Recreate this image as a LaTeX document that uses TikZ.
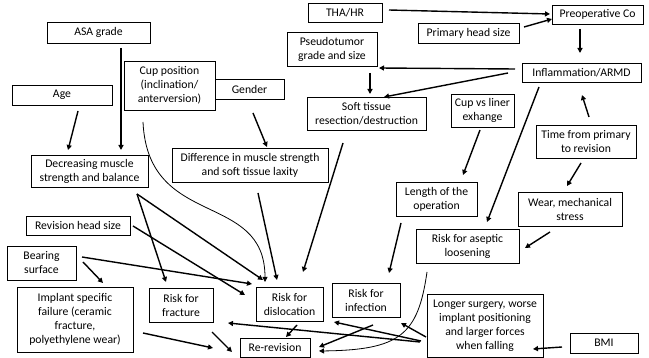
\documentclass[tikz,border=0pt]{standalone}
\usepackage{fontspec}
\setmainfont{Carlito}
\usetikzlibrary{arrows.meta,calc}
\begin{document}
\begin{tikzpicture}[x=1pt,y=-1pt,
 box/.style={draw=black,line width=0.9pt,align=center,inner sep=0pt,font=\fontsize{11.7}{14}\selectfont},
 arr/.style={line width=1.4pt,-{Triangle[length=5pt,width=5pt]}},
 carr/.style={line width=0.8pt,-{Triangle[length=5pt,width=5pt]}}]
\useasboundingbox (0,0) rectangle (649,358);
% nodes
\node[box,minimum width=103pt,minimum height=21pt] (asa) at (98.5,32.5) {ASA grade};
\node[box,minimum width=100pt,minimum height=20pt] (age) at (62,95) {Age};
\node[box,minimum width=91pt,minimum height=49pt] (cup) at (169.5,85.5) {Cup position\\(inclination/\\anterversion)};
\node[box,minimum width=69pt,minimum height=20pt] (gender) at (249.5,89) {Gender};
\node[box,minimum width=117pt,minimum height=32pt] (dec) at (89.5,171) {Decreasing muscle\\strength and balance};
\node[box,minimum width=156pt,minimum height=34pt] (diff) at (250,165) {Difference in muscle strength\\and soft tissue laxity};
\node[box,minimum width=74pt,minimum height=19pt] (tha) at (345,12.5) {THA/HR};
\node[box,minimum width=91pt,minimum height=19pt] (preop) at (597.5,14.5) {Preoperative Co};
\node[box,minimum width=101pt,minimum height=20pt] (phs) at (468.5,33) {Primary head size};
\node[box,minimum width=90pt,minimum height=34pt] (pseudo) at (332,49) {Pseudotumor\\grade and size};
\node[box,minimum width=119pt,minimum height=19pt] (infl) at (581.5,72.5) {Inflammation/ARMD};
\node[box,minimum width=119pt,minimum height=33pt] (soft) at (366.5,113.5) {Soft tissue\\resection/destruction};
\node[box,minimum width=63pt,minimum height=33pt] (cvl) at (482.5,110.5) {Cup vs liner\\exhange};
\node[box,minimum width=100pt,minimum height=33pt] (time) at (586,141.5) {Time from primary\\to revision};
\node[box,minimum width=81pt,minimum height=34pt] (len) at (436.5,199) {Length of the\\operation};
\node[box,minimum width=104pt,minimum height=34pt] (wear) at (570,209) {Wear, mechanical\\stress};
\node[box,minimum width=103pt,minimum height=34pt] (asep) at (467.5,246) {Risk for aseptic\\loosening};
\node[box,minimum width=68pt,minimum height=34pt] (inf) at (366,300) {Risk for\\infection};
\node[box,minimum width=116pt,minimum height=63pt] (longer) at (485,325.5) {Longer surgery, worse\\implant positioning\\and larger forces\\when falling};
\node[box,minimum width=68pt,minimum height=20pt] (bmi) at (604,343) {BMI};
\node[box,minimum width=104pt,minimum height=19pt] (rhs) at (78,225.5) {Revision head size};
\node[box,minimum width=69pt,minimum height=34pt] (bear) at (41.5,263) {Bearing\\surface};
\node[box,minimum width=116pt,minimum height=65pt] (impl) at (75,319.5) {Implant specific\\failure (ceramic\\fracture,\\polyethylene wear)};
\node[box,minimum width=64pt,minimum height=34pt] (frac) at (181,305) {Risk for\\fracture};
\node[box,minimum width=67pt,minimum height=34pt] (disl) at (289.5,304) {Risk for\\dislocation};
\node[box,minimum width=70pt,minimum height=19pt] (rerev) at (275,347.5) {Re-revision};
% connectors
\draw[arr] ($(tha)+(44,-2.5)$) -- ($(preop)+(-47.5,-0.5)$);
\draw[arr] ($(phs)+(55.5,-6)$) -- ($(preop)+(-45.5,4.5)$);
\draw[arr] ($(preop)+(-17.5,14.5)$) -- ($(infl)+(-1.5,-19.5)$);
\draw[arr] ($(infl)+(-66.5,-3.5)$) -- ($(pseudo)+(47,19)$);
\draw[arr] ($(infl)+(-73.5,0.5)$) -- ($(soft)+(17.5,-16.5)$);
\draw[arr] ($(pseudo)+(38,24)$) -- ($(soft)+(3.5,-19.5)$);
\draw[arr] ($(time)+(3,-24.5)$) -- ($(infl)+(0.5,22.5)$);
\draw[arr] ($(time)+(-5,21.5)$) -- ($(wear)+(-3,-23)$);
\draw[arr] ($(cvl)+(-2.5,19.5)$) -- ($(len)+(26.5,-24)$);
\draw[arr] ($(infl)+(-42.5,14.5)$) -- ($(asep)+(19.5,-24)$);
\draw[arr] ($(wear)+(-20,23)$) -- ($(asep)+(57.5,2)$);
\draw[arr] ($(len)+(-35.5,24)$) -- ($(inf)+(23,-27)$);
\draw[arr] ($(bmi)+(-42,4)$) -- ($(longer)+(48,23.5)$);
\draw[carr] ($(asep)+(-40.5,26)$) .. controls ($(asep)+(-49.5,89)$) and ($(rerev)+(125,2.5)$) .. ($(rerev)+(44,3.5)$);
\draw[arr] ($(longer)+(-59,11.5)$) -- ($(inf)+(35,23)$);
\draw[arr] ($(longer)+(-65,16.5)$) -- ($(frac)+(47,18)$);
\draw[arr] ($(longer)+(-64,15.5)$) -- ($(disl)+(44.5,18)$);
\draw[arr] ($(inf)+(7,25)$) -- ($(rerev)+(44,-0.5)$);
\draw[arr] ($(disl)+(7.5,21)$) -- ($(rerev)+(11,-10.5)$);
\draw[arr] ($(frac)+(31,27)$) -- ($(rerev)+(-43,4.5)$);
\draw[arr] ($(impl)+(68,13.5)$) -- ($(rerev)+(-62,0.5)$);
\draw[arr] ($(bear)+(41.5,-1)$) -- ($(impl)+(28,-36.5)$);
\draw[arr] ($(bear)+(40.5,-6)$) -- ($(disl)+(-37.5,-20)$);
\draw[arr] ($(rhs)+(55,0.5)$) -- ($(disl)+(-44.5,-9)$);
\draw[arr] ($(dec)+(47.5,23)$) -- ($(frac)+(-15,-23)$);
\draw[arr] ($(dec)+(47.5,23)$) -- ($(disl)+(-26.5,-24)$);
\draw[arr] ($(soft)+(-23.5,29.5)$) -- ($(disl)+(13.5,-32)$);
\draw[arr] ($(diff)+(8,28)$) -- ($(disl)+(-12.5,-24)$);
\draw[carr] ($(cup)+(-26.5,36.5)$) .. controls ($(cup)+(-21.5,144.5)$) and ($(disl)+(-24.5,-114)$) .. ($(disl)+(-24.5,-22)$);
\draw[arr] ($(gender)+(3.5,24)$) -- ($(diff)+(17,-18)$);
\draw[arr] ($(age)+(16,16)$) -- ($(dec)+(-21.5,-21)$);
\draw[arr] ($(asa)+(22.5,15.5)$) -- ($(dec)+(31.5,-21)$);
\end{tikzpicture}
\end{document}
